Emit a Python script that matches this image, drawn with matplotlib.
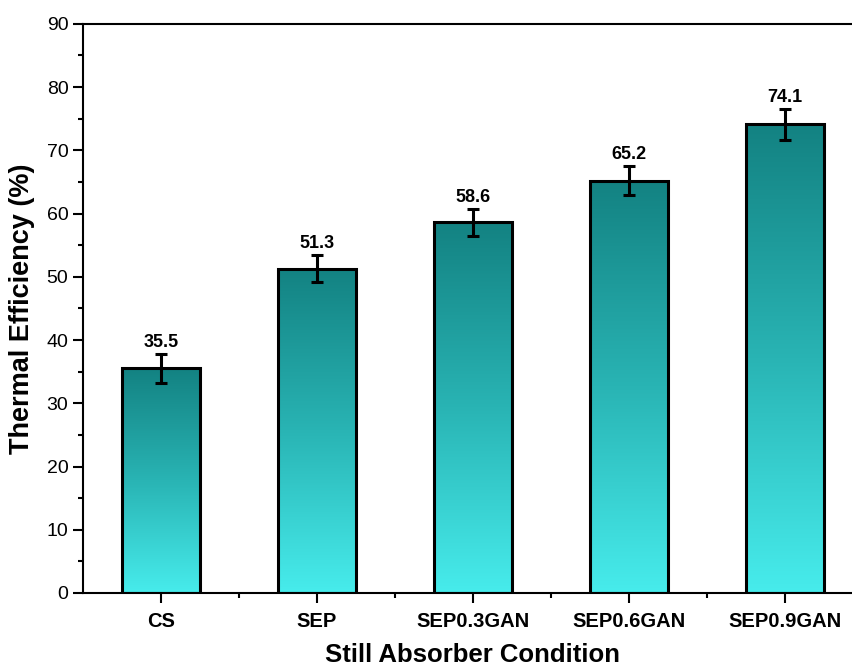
import numpy as np
import matplotlib
matplotlib.use("Agg")
from matplotlib import pyplot as plt
from matplotlib.colors import LinearSegmentedColormap
from matplotlib.ticker import MultipleLocator

categories = ["CS", "SEP", "SEP0.3GAN", "SEP0.6GAN", "SEP0.9GAN"]
efficiency = [35.5, 51.3, 58.6, 65.2, 74.1]
errors = [2.3, 2.2, 2.1, 2.3, 2.4]

plt.rcParams['font.family'] = ['Liberation Sans', 'DejaVu Sans']

fig = plt.figure(figsize=(8.53, 6.68), dpi=100)
ax = fig.add_axes([0.0973, 0.1123, 0.914, 0.852])

# gradient: dark teal on top, light cyan at bottom
cmap = LinearSegmentedColormap.from_list("teal", ["#47ecec", "#29b4b4", "#138282"])
grad = np.linspace(0, 1, 256).reshape(-1, 1)

x = np.arange(len(categories))
bars = ax.bar(x, efficiency, width=0.5, facecolor="none", edgecolor="black",
              linewidth=2.2, zorder=3)
for bar in bars:
    x0, y0 = bar.get_x(), bar.get_y()
    w, h = bar.get_width(), bar.get_height()
    im = ax.imshow(grad, cmap=cmap, aspect="auto", origin="lower",
                   extent=[x0, x0 + w, y0, y0 + h], zorder=2)
    im.set_clip_path(bar)

ax.errorbar(x, efficiency, yerr=errors, fmt="none", ecolor="black",
            elinewidth=2.2, capsize=4.5, capthick=2.2, zorder=4)

for xi, v, e in zip(x, efficiency, errors):
    ax.text(xi, v + e + 0.5, f"{v:.1f}", ha="center", va="bottom",
            fontsize=13, fontweight="bold")

ax.set_xlim(-0.5, 4.5)
ax.set_ylim(0, 90)
ax.yaxis.set_major_locator(MultipleLocator(10))
ax.yaxis.set_minor_locator(MultipleLocator(5))
ax.set_xticks(x)
ax.set_xticks(x[:-1] + 0.5, minor=True)
ax.set_xticklabels(categories, fontsize=14.5, fontweight="bold")
ax.tick_params(axis="y", labelsize=14)
ax.tick_params(which="major", direction="out", length=7, width=1.5)
ax.tick_params(which="minor", direction="out", length=3.6, width=1.5)
ax.tick_params(axis="x", pad=7)

for s in ax.spines.values():
    s.set_linewidth(1.5)

ax.set_xlabel("Still Absorber Condition", fontsize=18.5, fontweight="bold",
              labelpad=8)
ax.set_ylabel("Thermal Efficiency (%)", fontsize=19.5, fontweight="bold",
              labelpad=8)

fig.savefig("out.png", dpi=100)
